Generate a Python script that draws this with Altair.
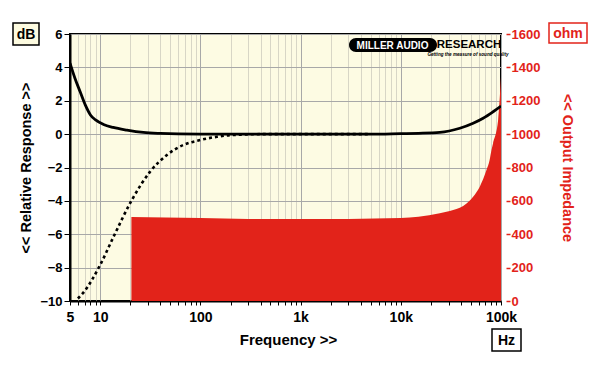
import altair as alt
import pandas as pd

# ---- data ----
resp_freq = [5, 5.6, 6.3, 7.1, 8, 9, 10.8, 13.5, 18.5, 27, 40, 60, 100, 1000, 5000,
             10000, 15000, 24500, 38800, 52700, 66300, 83400, 100000]
resp_db = [4.25, 3.35, 2.55, 1.75, 1.15, 0.85, 0.58, 0.4, 0.24, 0.1, 0.04, 0.01, 0, 0, 0,
           0.03, 0.05, 0.1, 0.35, 0.65, 0.95, 1.34, 1.68]

dot_freq = [6.0, 6.8, 10, 13.6, 20.7, 31.5, 46.3, 67.6, 100, 146, 213, 450, 1000, 5000]
dot_db = [-9.85, -9.5, -7.84, -6.15, -3.95, -2.25, -1.25, -0.65, -0.35, -0.16,
          -0.05, 0, 0, 0]

imp_freq = [20.5, 100, 300, 1000, 3000, 10000, 15000, 24500, 33300, 45300, 52700, 61400,
            71600, 77000, 80400, 83400, 93600, 100000]
imp_ohm = [503, 497, 492, 491, 492, 497, 505, 526, 545, 585, 625, 685, 785, 845, 905, 945,
           1085, 1342]

db_ticks = [-10, -8, -6, -4, -2, 0, 2, 4, 6]
ohm_ticks = [0, 200, 400, 600, 800, 1000, 1200, 1400, 1600]
freq_ticks = [5, 6, 7, 8, 9,
              10, 20, 30, 40, 50, 60, 70, 80, 90,
              100, 200, 300, 400, 500, 600, 700, 800, 900,
              1000, 2000, 3000, 4000, 5000, 6000, 7000, 8000, 9000,
              10000, 20000, 30000, 40000, 50000, 60000, 70000, 80000, 90000,
              100000]

FONT = "Liberation Sans"
RED = "#E2231A"

resp_df = pd.DataFrame({"f": resp_freq, "db": resp_db})
dot_df = pd.DataFrame({"f": dot_freq, "db": dot_db})
imp_df = pd.DataFrame({"f": imp_freq, "ohm": imp_ohm})

x_scale = alt.Scale(type="log", domain=[5, 100000], nice=False)
x_axis = alt.Axis(
    values=freq_ticks,
    labelExpr="datum.value == 5 ? '5' : datum.value == 10 ? '10' : datum.value == 100 ? '100' : "
              "datum.value == 1000 ? '1k' : datum.value == 10000 ? '10k' : "
              "datum.value == 100000 ? '100k' : ''",
    labelFont=FONT, labelFontSize=14, labelFontWeight="bold", labelColor="black",
    labelPadding=5, labelFlush=False, labelOverlap=False,
    domainColor="black", domainWidth=2,
    tickColor="black", tickSize=4,
    grid=True,
    gridColor={"condition": {"test": "indexof([10,100,1000,10000,100000], datum.value) >= 0",
                             "value": "#A8A8A8"},
               "value": "#D8D6C6"},
    gridWidth=1,
    title="Frequency >>", titleFont=FONT, titleFontSize=15, titleFontWeight="bold",
    titleColor="black", titleX=218, titleY=38, titleAlign="center", titleBaseline="middle",
)
x_enc = alt.X("f:Q", scale=x_scale, axis=x_axis)

db_scale = alt.Scale(domain=[-10, 6], nice=False)
db_axis = alt.Axis(
    orient="left", values=db_ticks,
    labelFont=FONT, labelFontSize=13, labelFontWeight="bold", labelColor="black",
    labelPadding=2,
    domainColor="black", domainWidth=2, tickColor="black", tickSize=6,
    grid=True, gridColor="#A8A8A8", gridWidth=1,
    title="<< Relative Response >>", titleFont=FONT, titleFontSize=14.5,
    titleFontWeight="bold", titleColor="black", titleAngle=-90,
    titleX=-44, titleY=133.5, titleAlign="center", titleBaseline="middle",
)

ohm_axis = alt.Axis(
    orient="right", values=ohm_ticks, offset=5, format="d",
    labelFont=FONT, labelFontSize=13, labelFontWeight="bold", labelColor=RED,
    labelPadding=1,
    domain=False, tickColor=RED, tickSize=4, tickWidth=1.5,
    grid=False,
    title="<< Output Impedance", titleFont=FONT, titleFontSize=14.5,
    titleFontWeight="bold", titleColor=RED, titleAngle=90,
    titleX=60.5, titleY=133.5, titleAlign="center", titleBaseline="middle",
)

area = alt.Chart(imp_df).mark_area(color=RED, opacity=1, interpolate="monotone").encode(
    x=x_enc,
    y=alt.Y("ohm:Q", scale=alt.Scale(domain=[0, 1600], nice=False), axis=ohm_axis),
)

solid = alt.Chart(resp_df).mark_line(color="black", strokeWidth=2.8, clip=True,
                                     interpolate="monotone").encode(
    x=x_enc, y=alt.Y("db:Q", scale=db_scale, axis=db_axis))
dotted = alt.Chart(dot_df).mark_line(color="black", strokeWidth=2.6, strokeDash=[3, 3],
                                     clip=True, interpolate="monotone").encode(
    x=x_enc, y=alt.Y("db:Q", scale=db_scale, axis=db_axis))
lines = alt.layer(dotted, solid)

one = alt.Data(values=[{}])


def box(x1, x2, y1, y2, fill, stroke):
    return alt.Chart(one).mark_rect(fill=fill, stroke=stroke, strokeWidth=1.5).encode(
        x=alt.value(x1), x2=alt.value(x2), y=alt.value(y1), y2=alt.value(y2))


def label(txt, x, y, color, size=14, weight="bold", style="normal", font=FONT):
    return alt.Chart(one).mark_text(text=txt, font=font, fontSize=size, fontWeight=weight,
                                    fontStyle=style, color=color, align="center",
                                    baseline="middle").encode(
        x=alt.value(x), y=alt.value(y))


annos = [
    box(-57, -31, -11, 11, "#FDFBE0", "black"), label("dB", -44, 0.5, "black"),
    box(479, 517, -11, 9, "white", RED), label("ohm", 498, -0.5, RED),
    box(422, 451, 295, 317, "white", "black"), label("Hz", 436.5, 306.5, "black"),
    alt.Chart(one).mark_rect(fill="black", cornerRadius=7).encode(
        x=alt.value(279), x2=alt.value(367), y=alt.value(4), y2=alt.value(18)),
    label("MILLER AUDIO", 322.5, 11.5, "white", size=10, weight=900),
    label("RESEARCH", 399, 11, "black", size=11.5, weight=900),
    label("Getting the measure of sound quality", 398, 20.5, "black", size=4.6,
          weight="bold", style="italic"),
]

chart = alt.layer(area, lines, *annos).resolve_scale(y="independent").properties(
    width=431, height=267,
    padding={"left": 62, "top": 26, "right": 91, "bottom": 59},
    autosize=alt.AutoSizeParams(type="none"),
    background="white",
).configure_view(fill="#FDFBE3", stroke="black", strokeWidth=2)

chart.save("out.html", embed_options={"renderer": "svg", "actions": False})
